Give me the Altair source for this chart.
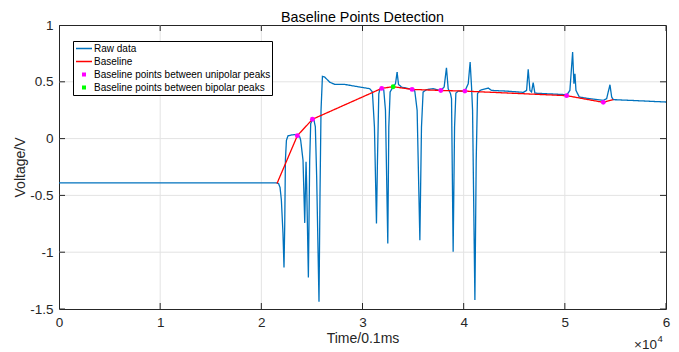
import altair as alt
import pandas as pd

# ---------------- data ----------------
raw_x = [0, 21500, 21700, 21850, 21980, 22140, 22240, 22310, 22380, 22480, 22640, 23000, 23300,
         23600, 23800, 23890, 24120, 24290, 24350, 24420, 24480, 24650, 24780, 24880, 25050, 25210,
         25340, 25470, 25700, 25800, 25900, 26040, 26270, 26760, 27260, 28240, 29730, 30720, 30980,
         31180, 31380, 31480, 31610, 31740, 31900, 32100, 32270, 32500, 32600, 32730, 33030, 33260,
         33420, 33560, 33850, 34900, 35170, 35400, 35670, 35830, 35990, 36330, 36980, 37320, 37740,
         38070, 38300, 38470, 38700, 38800, 38960, 39100, 39230, 39460, 40120, 40450, 40640, 40780,
         40880, 41110, 41240, 41370, 41600, 41930, 42420, 42760, 44240, 45890, 46220, 46380, 46550,
         46710, 46870, 47040, 48200, 50010, 50180, 50500, 50770, 50900, 51000, 51100, 51430, 52480,
         53800, 54130, 54460, 54630, 54790, 57100, 60000]
raw_y = [-0.39, -0.39, -0.395, -0.43, -0.54, -0.835, -1.134, -0.777, -0.19, -0.015, 0.025, 0.032, 0.035,
         0.026, 0.015, -0.015, -0.19, -0.742, -0.48, -0.205, -0.40, -1.222, -0.19, 0.132, 0.168, 0.161,
         0.102, -0.337, -1.436, -0.483, 0.249, 0.547, 0.541, 0.497, 0.477, 0.477, 0.454, 0.439, 0.41,
         0.102, -0.747, -0.19, 0.395, 0.44, 0.445, 0.43, 0.249, -0.923, 0.102, 0.41, 0.457, 0.483,
         0.585, 0.477, 0.454, 0.433, 0.418, 0.249, -0.894, 0.102, 0.41, 0.431, 0.44, 0.431, 0.424,
         0.454, 0.624, 0.439, 0.395, 0.351, -0.996, 0.102, 0.40, 0.418, 0.418, 0.483, 0.673, 0.454,
         0.249, -1.421, -0.19, 0.395, 0.424, 0.433, 0.445, 0.424, 0.418, 0.407, 0.424, 0.609, 0.424,
         0.41, 0.492, 0.40, 0.395, 0.387, 0.382, 0.424, 0.761, 0.483, 0.571, 0.424, 0.366, 0.351,
         0.337, 0.351, 0.474, 0.366, 0.343, 0.334, 0.322]

base_x = [21550, 23560, 25050, 31900, 33030, 34900, 37740, 40120, 50180, 53800, 54790]
base_y = [-0.395, 0.026, 0.170, 0.442, 0.457, 0.433, 0.424, 0.418, 0.378, 0.319, 0.343]

uni_x = [23560, 25050, 31900, 34900, 37740, 40120, 50180, 53800]
uni_y = [0.026, 0.170, 0.442, 0.433, 0.424, 0.418, 0.378, 0.319]

bi_x = [33030]
bi_y = [0.457]

series_names = ["Raw data", "Baseline",
                "Baseline points between unipolar peaks",
                "Baseline points between bipolar peaks"]
series_colors = ["#0072BD", "#FF0000", "#FF00FF", "#00FF00"]

x_ticks = [0, 10000, 20000, 30000, 40000, 50000, 60000]
y_ticks = [-1.5, -1, -0.5, 0, 0.5, 1]
exp_base = ["×10"]
exp_power = ["4"]

# ---------------- frames ----------------
raw_df = pd.DataFrame({"t": raw_x, "v": raw_y, "series": series_names[0]})
base_df = pd.DataFrame({"t": base_x, "v": base_y, "series": series_names[1]})
pts_df = pd.concat([
    pd.DataFrame({"t": uni_x, "v": uni_y, "series": series_names[2]}),
    pd.DataFrame({"t": bi_x, "v": bi_y, "series": series_names[3]}),
], ignore_index=True)
xt_df = pd.DataFrame({"t": x_ticks})
yt_df = pd.DataFrame({"v": y_ticks})
xg_df = pd.DataFrame({"t": x_ticks[1:-1]})
yg_df = pd.DataFrame({"v": y_ticks[1:-1]})
exp_df = pd.DataFrame({"t": [x_ticks[-1]], "base": exp_base, "pw": exp_power})

W, H = 607, 284
FONT = "Liberation Sans"
AX = "#262626"
GRID = "#e3e3e3"

xs = alt.Scale(domain=[x_ticks[0], x_ticks[-1]], nice=False, zero=False)
ys = alt.Scale(domain=[y_ticks[0], y_ticks[-1]], nice=False, zero=False)
cs = alt.Scale(domain=series_names, range=series_colors)
# legend styling of the four entries: lines for the two curves, short thick dashes (dots) for points
dash_s = alt.Scale(domain=series_names, range=[[1, 0], [1, 0], [0, 6, 4, 100], [0, 6, 4, 100]])
sw_s = alt.Scale(type="ordinal", domain=series_names, range=[1.3, 1.3, 4, 4])

x_main = alt.Axis(orient="bottom", values=x_ticks, labelExpr="'' + datum.value / 10000",
                  ticks=False, domain=False, grid=False, labelFlush=False,
                  labelFont=FONT, labelFontSize=13.5, labelColor=AX, labelPadding=6,
                  title="Time/0.1ms", titleFont=FONT, titleFontSize=14, titleFontWeight="normal",
                  titleColor=AX, titlePadding=3)
y_main = alt.Axis(orient="left", values=y_ticks, labelExpr="'' + datum.value",
                  ticks=False, domain=False, grid=False, labelFlush=False,
                  labelFont=FONT, labelFontSize=13.5, labelColor=AX, labelPadding=6,
                  title="Voltage/V", titleFont=FONT, titleFontSize=14, titleFontWeight="normal",
                  titleColor=AX, titlePadding=2)

legend = alt.Legend(title=None, orient="none", legendX=14, legendY=16, direction="vertical",
                    fillColor="white", strokeColor="#000000", padding=1, rowPadding=0,
                    clipHeight=13, labelFont=FONT, labelFontSize=10, labelColor="black",
                    labelOffset=0, labelLimit=400, symbolSize=256, symbolOffset=0,
                    symbolType="stroke", symbolOpacity=1)

# light grid lines at the inner tick values
grid_x = alt.Chart(xg_df).mark_rule(color=GRID, strokeWidth=1).encode(x=alt.X("t:Q", scale=xs))
grid_y = alt.Chart(yg_df).mark_rule(color=GRID, strokeWidth=1).encode(y=alt.Y("v:Q", scale=ys))

raw_line = alt.Chart(raw_df).mark_line().encode(
    x=alt.X("t:Q", scale=xs, axis=x_main),
    y=alt.Y("v:Q", scale=ys, axis=y_main),
    color=alt.Color("series:N", scale=cs, legend=legend),
    strokeDash=alt.StrokeDash("series:N", scale=dash_s, legend=legend),
    strokeWidth=alt.StrokeWidth("series:N", scale=sw_s, legend=legend),
)

base_line = alt.Chart(base_df).mark_line().encode(
    x=alt.X("t:Q", scale=xs),
    y=alt.Y("v:Q", scale=ys),
    color=alt.Color("series:N", scale=cs, legend=None),
    strokeDash=alt.StrokeDash("series:N", scale=dash_s, legend=None),
    strokeWidth=alt.StrokeWidth("series:N", scale=sw_s, legend=None),
)

points = alt.Chart(pts_df).mark_point(filled=True, size=24, opacity=1, shape="circle").encode(
    x=alt.X("t:Q", scale=xs),
    y=alt.Y("v:Q", scale=ys),
    color=alt.Color("series:N", scale=cs, legend=None),
)

# inward ticks on all four sides (half of each tick is clipped away by the frame)
tick_bottom = alt.Chart(xt_df).mark_tick(orient="vertical", size=12, thickness=1, color=AX,
                                         clip=True, opacity=1).encode(
    x=alt.X("t:Q", scale=xs), y=alt.Y(datum=y_ticks[0], scale=ys))
tick_top = alt.Chart(xt_df).mark_tick(orient="vertical", size=12, thickness=1, color=AX,
                                      clip=True, opacity=1).encode(
    x=alt.X("t:Q", scale=xs), y=alt.Y(datum=y_ticks[-1], scale=ys))
tick_left = alt.Chart(yt_df).mark_tick(orient="horizontal", size=12, thickness=1, color=AX,
                                       clip=True, opacity=1).encode(
    y=alt.Y("v:Q", scale=ys), x=alt.X(datum=x_ticks[0], scale=xs))
tick_right = alt.Chart(yt_df).mark_tick(orient="horizontal", size=12, thickness=1, color=AX,
                                        clip=True, opacity=1).encode(
    y=alt.Y("v:Q", scale=ys), x=alt.X(datum=x_ticks[-1], scale=xs))

exp_text = alt.Chart(exp_df).mark_text(font=FONT, fontSize=13.5, color=AX, align="right",
                                       baseline="alphabetic", dx=-9).encode(
    x=alt.X("t:Q", scale=xs),
    y=alt.value(H + 40),
    text="base:N",
)
exp_pow = alt.Chart(exp_df).mark_text(font=FONT, fontSize=9.5, color=AX, align="left",
                                      baseline="alphabetic", dx=-8.5).encode(
    x=alt.X("t:Q", scale=xs),
    y=alt.value(H + 33),
    text="pw:N",
)

chart = alt.layer(
    grid_x, grid_y, raw_line, base_line, points,
    tick_bottom, tick_top, tick_left, tick_right, exp_text, exp_pow
).properties(
    width=W, height=H,
    padding={"left": 59, "top": 25, "right": 13, "bottom": 43},
    autosize=alt.AutoSizeParams(type="none"),
    background="white",
    title=alt.Title("Baseline Points Detection", font=FONT, fontSize=14.3, fontWeight="normal",
                    color="black", offset=3, dy=10, anchor="middle"),
).configure_view(stroke=AX, strokeWidth=1)

chart.save("out.html", embed_options={"renderer": "svg", "actions": False})
